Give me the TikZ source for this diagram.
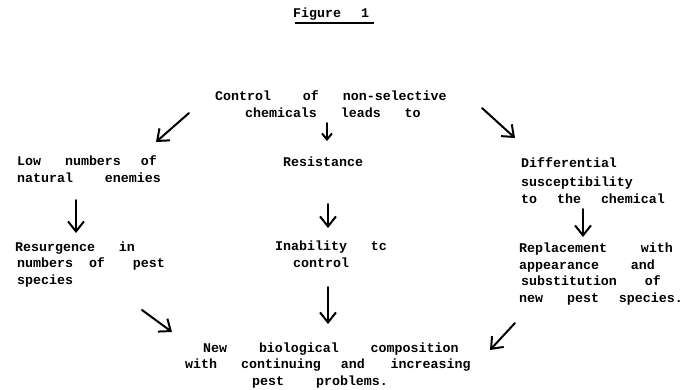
\documentclass[tikz,border=0pt]{standalone}
\usepackage{fontspec}
\setmonofont{Liberation Mono}
\usetikzlibrary{arrows.meta,positioning}
\newcommand{\sk}[1]{\hspace*{#1\fontcharwd\font`x}}

\begin{document}
\begin{tikzpicture}[x=1pt,y=-1pt,
      txt/.style={
         inner sep=0pt,
         anchor=base west,
         align=left,
         font=\fontsize{13.3}{16.5}\selectfont\ttfamily\bfseries
      },
      hand/.style={
         -{Straight Barb[length=10pt,width=16pt]},
         line width=2pt,
         line cap=round
      },
      small hand/.style={
         hand,
         -{Straight Barb[length=6pt,width=10pt]}
      },
    ]
    \useasboundingbox (0,0) rectangle (689,389);
    % title
    \node[txt] (title) at (293,17) {Figure\sk{2.5}1};
    \draw[line width=2.5pt] ([shift={(2,6)}]title.base west) -- ([shift={(5,6)}]title.base east);
    % blocks (placed at the baseline of their last line)
    \node[txt] (ctrl) at (215,117) {Control\sk{4}of\sk{3}non-selective\\
      \sk{3.75}chemicals\sk{3}leads\sk{3}to};
    \node[txt] (low) at (17,182) {Low\sk{3}numbers\sk{2.5}of\\natural\sk{4}enemies};
    \node[txt] (resist) at (283,166) {Resistance};
    \node[txt] (diff) at (521,203) {Differential\\[2.5pt]susceptibility\\to\sk{2.5}the\sk{2.5}chemical};
    \node[txt] (resurg) at (15,284) {Resurgence\sk{3}in\\
      \sk{0.25}numbers\sk{2}of\sk{3.5}pest\\\sk{0.25}species};
    \node[txt] (inab) at (275,267) {Inability\sk{3}tc\\\sk{2.25}control};
    \node[txt] (repl) at (519,302) {Replacement\sk{4.25}with\\appearance\sk{4}and\\
      \sk{0.25}substitution\sk{3.5}of\\new\sk{3}pest\sk{2.5}species.};
    \node[txt] (newbio) at (185,385) {\sk{2.25}New\sk{4}biological\sk{4}composition\\
      with\sk{3}continuing\sk{2.5}and\sk{3.25}increasing\\
      \sk{8.4}pest\sk{4}problems.};
    % arrow ends
    \coordinate (ctrl-low-s) at (189,113);
    \coordinate (ctrl-low-e) at (156,142);
    \coordinate (ctrl-res-s) at (327,123);
    \coordinate (ctrl-res-e) at (327,141);
    \coordinate (ctrl-diff-s) at (482,108);
    \coordinate (ctrl-diff-e) at (515,138);
    \coordinate (low-resurg-s) at (76,200);
    \coordinate (low-resurg-e) at (76,233);
    \coordinate (res-inab-s) at (328,204);
    \coordinate (res-inab-e) at (328,228);
    \coordinate (diff-repl-s) at (583,209);
    \coordinate (diff-repl-e) at (583,237);
    \coordinate (resurg-new-s) at (142,310);
    \coordinate (resurg-new-e) at (172,332);
    \coordinate (inab-new-s) at (328,287);
    \coordinate (inab-new-e) at (328,324);
    \coordinate (repl-new-s) at (515,323);
    \coordinate (repl-new-e) at (490,350);
    % arrows
    \draw[hand] (ctrl-low-s) -- (ctrl-low-e);
    \draw[small hand] (ctrl-res-s) -- (ctrl-res-e);
    \draw[hand] (ctrl-diff-s) -- (ctrl-diff-e);
    \draw[hand] (low-resurg-s) -- (low-resurg-e);
    \draw[hand] (res-inab-s) -- (res-inab-e);
    \draw[hand] (diff-repl-s) -- (diff-repl-e);
    \draw[hand] (resurg-new-s) -- (resurg-new-e);
    \draw[hand] (inab-new-s) -- (inab-new-e);
    \draw[hand] (repl-new-s) -- (repl-new-e);
\end{tikzpicture}
\end{document}
